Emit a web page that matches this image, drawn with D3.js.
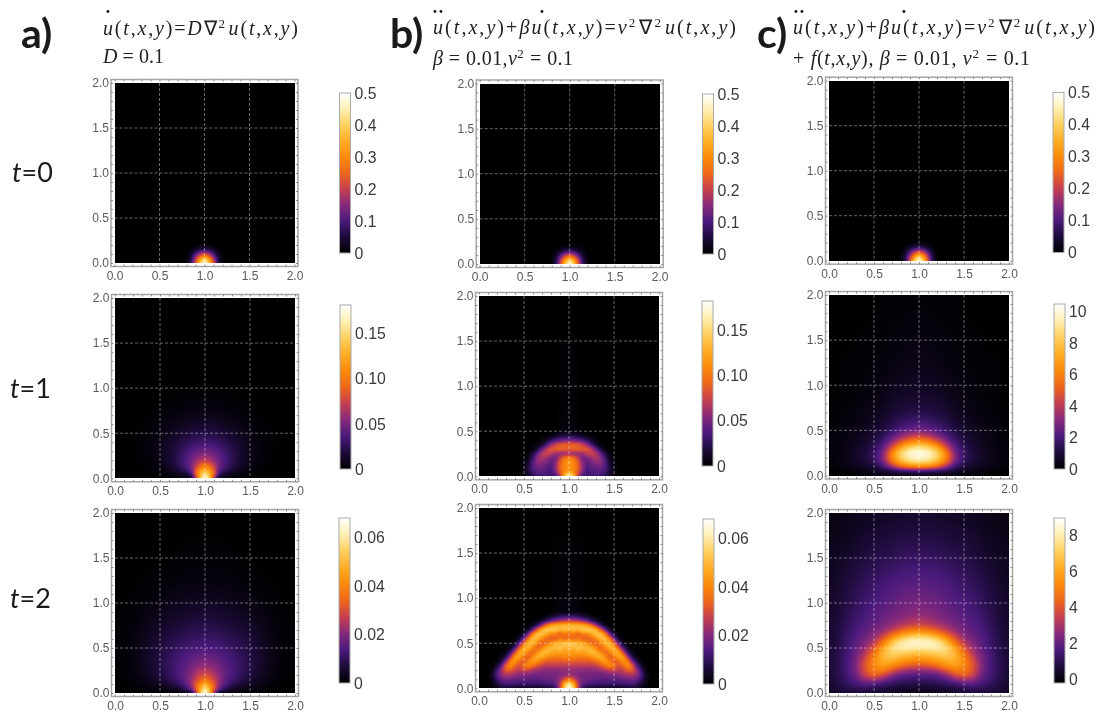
<!DOCTYPE html>
<html><head><meta charset="utf-8">
<style>html,body{margin:0;padding:0;background:#fff;overflow:hidden}
#wrap{position:relative;width:1103px;height:715px}
canvas,svg{position:absolute;left:0;top:0}
svg{filter:blur(0.35px)}
</style>
<script src="https://cdn.jsdelivr.net/npm/d3@7"></script></head>
<body><div id="wrap"><canvas id="cv" width="1103" height="715"></canvas><svg id="sv" width="1103" height="715"></svg></div>
<script>
// ---- Data: values, in percent of each colour bar's top value.
// Rows are heights y, columns are distances |x-1| from the centre line (the fields are mirror symmetric).
const offsetsT0=[0,.05,.1,.15,.2,.25];
const heightsT0=[0,.05,.1,.15,.2,.25,2];
const valuesT0=[
[100,78,45,14,2,0],
[78,62,36,11,1,0],
[45,36,20,6,1,0],
[14,11,6,2,0,0],
[2,1,1,0,0,0],
[0,0,0,0,0,0],
[0,0,0,0,0,0]];

const offsetsA1=[0,.05,.1,.15,.2,.3,.4,.5,.6,.8,1];
const heightsA1=[0,.05,.1,.15,.2,.3,.4,.5,.6,.8,1,2];
const valuesA1=[
[100,78,36,6,2,1,0,0,0,0,0],
[86,72,50,20,10,5,2,1,0,0,0],
[70,62,46,27,18,10,5,2,1,0,0],
[54,50,38,27,21,13,7,3,1,0,0],
[40,37,32,26,21,15,8,4,2,0,0],
[27,26,24,21,19,13,8,4,2,0,0],
[18,18,17,15,14,10,7,4,2,0,0],
[12,12,11,10,9,7,5,3,1,0,0],
[7,7,6,6,5,4,3,2,1,0,0],
[2,2,2,2,2,1,1,0,0,0,0],
[0,0,0,0,0,0,0,0,0,0,0],
[0,0,0,0,0,0,0,0,0,0,0]];

const offsetsA2=[0,.05,.1,.15,.2,.3,.4,.5,.6,.7,.8,1];
const heightsA2=[0,.05,.1,.15,.2,.3,.4,.5,.6,.8,1,1.2,1.5,2];
const valuesA2=[
[100,76,34,8,3,1,1,0,0,0,0,0],
[86,70,48,28,18,8,5,3,2,1,0,0],
[70,60,48,33,24,14,9,6,4,2,1,0],
[56,50,42,33,26,18,13,9,6,3,1,0],
[46,43,37,31,26,20,15,11,7,4,2,0],
[34,32,29,26,24,20,16,12,8,5,2,0],
[26,25,24,22,21,18,15,12,8,5,2,0],
[21,21,20,19,18,16,14,11,8,5,2,0],
[17,17,16,16,15,13,12,9,7,4,2,0],
[11,11,10,10,9,8,7,6,4,3,1,0],
[6,6,6,5,5,5,4,3,2,1,1,0],
[3,3,3,3,2,2,2,1,1,1,0,0],
[1,1,1,1,1,1,0,0,0,0,0,0],
[0,0,0,0,0,0,0,0,0,0,0,0]];

const offsetsB1=[0,.05,.1,.15,.2,.25,.3,.35,.4,.45,.5,.55];
const heightsB1=[0,.05,.1,.15,.2,.25,.3,.35,.4,.45,.5,2];
const valuesB1=[
[100,75,35,18,18,18,18,16,12,6,2,0],
[68,60,46,28,18,20,22,22,18,10,3,0],
[60,58,50,32,20,23,25,26,22,11,3,0],
[66,60,48,30,22,27,30,31,22,9,2,0],
[58,54,40,26,27,32,36,32,18,6,1,0],
[34,32,30,32,38,42,38,25,11,3,0,0],
[46,48,49,48,47,38,25,11,3,0,0,0],
[50,50,47,42,33,19,8,2,0,0,0,0],
[28,27,24,20,14,7,2,0,0,0,0,0],
[12,11,9,6,3,1,0,0,0,0,0,0],
[2,2,1,0,0,0,0,0,0,0,0,0],
[0,0,0,0,0,0,0,0,0,0,0,0]];

const offsetsB2=[0,.05,.1,.15,.2,.25,.3,.35,.4,.45,.5,.55,.6,.65,.7,.75,.8,.85,.9];
const heightsB2=[0,.05,.1,.15,.2,.25,.3,.35,.4,.45,.5,.55,.6,.65,.7,.75,.8,.85,2];
const valuesB2=[
[100,82,40,14,8,7,6,5,5,5,5,5,6,6,7,7,4,1,0],
[88,70,38,24,20,19,18,17,17,17,17,17,18,19,19,16,9,3,0],
[55,44,32,27,26,25,24,23,23,23,23,24,25,26,27,25,17,6,0],
[32,30,29,28,27,27,26,26,27,28,29,30,33,35,36,32,22,8,0],
[32,32,31,30,30,30,31,33,35,40,42,38,40,48,48,34,18,4,0],
[38,38,38,38,38,38,40,45,52,60,55,44,50,62,50,24,8,1,0],
[48,48,47,47,47,48,52,60,66,58,46,50,64,58,30,11,2,0,0],
[58,60,56,58,58,62,70,72,62,46,54,68,66,36,12,3,0,0,0],
[66,64,68,66,70,74,72,60,50,56,70,70,42,16,4,0,0,0,0],
[76,72,78,74,74,70,58,48,58,72,72,48,20,5,0,0,0,0,0],
[76,78,70,72,60,52,46,58,72,74,52,24,6,0,0,0,0,0,0],
[56,48,58,46,48,50,60,72,76,58,28,8,1,0,0,0,0,0,0],
[48,56,46,58,56,68,76,78,60,30,9,2,0,0,0,0,0,0,0],
[72,76,72,78,80,80,72,50,26,8,1,0,0,0,0,0,0,0,0],
[74,74,72,70,64,52,34,16,5,1,0,0,0,0,0,0,0,0,0],
[40,38,36,30,24,14,7,2,0,0,0,0,0,0,0,0,0,0,0],
[16,15,13,10,6,3,1,0,0,0,0,0,0,0,0,0,0,0,0],
[2,2,2,1,0,0,0,0,0,0,0,0,0,0,0,0,0,0,0],
[0,0,0,0,0,0,0,0,0,0,0,0,0,0,0,0,0,0,0]];

const offsetsC1=[0,.1,.2,.25,.3,.35,.4,.5,.6,.8,1];
const heightsC1=[0,.05,.1,.15,.2,.25,.3,.35,.4,.45,.5,.6,.7,.85,1,1.25,1.5,2];
const valuesC1=[
[3,3,3,3,3,3,3,2,1,0,0],
[20,18,16,14,12,10,8,5,3,1,0],
[60,58,50,42,34,25,18,10,7,3,1],
[85,82,72,62,52,40,26,14,9,4,1],
[96,93,82,72,60,46,30,16,10,4,1],
[100,96,85,74,60,45,28,15,10,4,1],
[92,88,74,62,48,34,24,14,9,4,1],
[74,68,54,44,34,25,19,12,8,3,1],
[54,48,36,30,25,20,15,10,7,3,1],
[36,33,27,23,20,16,12,9,6,3,1],
[26,25,21,18,16,13,10,8,5,3,1],
[17,17,14,13,12,10,8,6,4,2,1],
[12,12,10,10,9,7,6,5,3,2,0],
[8,8,7,7,6,5,4,3,2,1,0],
[6,6,5,5,4,4,3,2,2,1,0],
[4,4,3,3,3,2,2,2,1,1,0],
[3,3,2,2,2,2,1,1,1,0,0],
[1,1,1,1,1,1,1,0,0,0,0]];

const offsetsC2=[0,.1,.2,.3,.4,.5,.6,.7,.8,.9,1];
const heightsC2=[0,.05,.1,.15,.2,.25,.3,.35,.4,.45,.5,.55,.6,.65,.7,.75,.8,.9,1,1.25,1.5,1.75,2];
const valuesC2=[
[2,2,3,4,5,6,7,7,7,6,4],
[5,5,6,7,9,11,13,12,10,8,5],
[10,10,11,13,16,20,21,17,13,9,5],
[15,15,16,20,28,34,30,21,15,10,6],
[20,20,22,29,42,50,40,24,16,11,6],
[28,29,33,44,56,56,45,26,17,11,6],
[43,45,50,60,66,60,46,27,17,11,6],
[56,58,62,70,72,60,44,26,17,11,6],
[66,68,72,78,76,58,38,25,17,10,6],
[75,77,80,85,74,52,33,24,16,10,6],
[88,90,92,88,68,44,30,22,16,10,5],
[99,99,96,84,56,36,27,21,15,10,5],
[98,96,86,68,44,31,25,20,15,9,5],
[72,70,60,46,34,27,23,19,14,9,5],
[52,50,43,36,29,25,21,18,13,9,5],
[40,38,34,30,26,23,20,17,13,8,4],
[34,33,30,27,24,21,19,16,12,8,4],
[29,28,26,24,22,20,17,14,11,7,4],
[26,25,24,22,20,18,16,13,10,7,4],
[20,20,19,18,16,14,12,10,8,5,3],
[14,14,13,12,11,10,9,7,5,4,2],
[9,9,9,8,7,7,6,4,3,2,2],
[5,5,5,4,4,3,3,2,2,1,1]];

const axisTicks=[0,.5,1,1.5,2];
const ticksT0=[0,.1,.2,.3,.4,.5];
const labelsT0=["0","0.1","0.2","0.3","0.4","0.5"];
const ticksA1=[0,.05,.1,.15];
const labelsA1=["0","0.05","0.10","0.15"];
const ticksA2=[0,.02,.04,.06];
const labelsA2=["0","0.02","0.04","0.06"];
const ticksC1=[0,2,4,6,8,10];
const ticksC2=[0,2,4,6,8];

const stopPositions=[0,.1,.2,.3,.4,.5,.6,.7,.8,.9,1];
const stopColors=["#000000","#1c0b3a","#4a1a7c","#86297c","#c63f50","#ee661a","#fb8a0a","#ffad25","#ffd060","#fff0b4","#ffffff"];

// ---- Layout
const panels=[
 {x0:114.5,y0:263,y2:83,  bx:339.5,by0:253,by1:93, min:0,max:.5,  off:offsetsT0,hs:heightsT0,vals:valuesT0,t:ticksT0,l:labelsT0,soft:0},
 {x0:115,y0:478.3,y2:298, bx:340,by0:469,by1:305,  min:0,max:.182,off:offsetsA1,hs:heightsA1,vals:valuesA1,t:ticksA1,l:labelsA1,soft:7},
 {x0:115,y0:693,y2:513,   bx:339,by0:683,by1:518,  min:0,max:.068,off:offsetsA2,hs:heightsA2,vals:valuesA2,t:ticksA2,l:labelsA2,soft:8},
 {x0:479.7,y0:264,y2:83.5,bx:702.5,by0:254,by1:94, min:0,max:.5,  off:offsetsT0,hs:heightsT0,vals:valuesT0,t:ticksT0,l:labelsT0,soft:0},
 {x0:479,y0:476.3,y2:296, bx:702,by0:466,by1:301,  min:0,max:.182,off:offsetsB1,hs:heightsB1,vals:valuesB1,t:ticksA1,l:labelsA1,soft:0},
 {x0:479,y0:688.3,y2:508, bx:703,by0:684,by1:519,  min:0,max:.068,off:offsetsB2,hs:heightsB2,vals:valuesB2,t:ticksA2,l:labelsA2,soft:0},
 {x0:829,y0:260.7,y2:80.7,bx:1053,by0:252.5,by1:92.5,min:0,max:.5,off:offsetsT0,hs:heightsT0,vals:valuesT0,t:ticksT0,l:labelsT0,soft:0},
 {x0:829,y0:475.5,y2:295, bx:1054,by0:469,by1:304, min:0,max:10.5,off:offsetsC1,hs:heightsC1,vals:valuesC1,t:ticksC1,l:ticksC1.map(String),soft:4},
 {x0:829,y0:693,y2:513,   bx:1054,by0:683,by1:518, min:-.2,max:8.95,off:offsetsC2,hs:heightsC2,vals:valuesC2,t:ticksC2,l:ticksC2.map(String),soft:4}
];

const color=d3.scaleLinear().domain(stopPositions).range(stopColors).clamp(true);
const lut=d3.range(1024).map(i=>d3.rgb(color(i/1023)));
const ctx=document.getElementById('cv').getContext('2d');
const svg=d3.select('#sv');

function sample(p,dx,y){
  const nx=p.off.length-1, ny=p.hs.length-1;
  const ix=Math.min(nx-1,Math.max(0,d3.bisectRight(p.off,dx)-1));
  const iy=Math.min(ny-1,Math.max(0,d3.bisectRight(p.hs,y)-1));
  const tx=Math.min(1,(dx-p.off[ix])/(p.off[ix+1]-p.off[ix]));
  const ty=Math.min(1,Math.max(0,(y-p.hs[iy])/(p.hs[iy+1]-p.hs[iy])));
  const a=p.vals[iy][ix],b=p.vals[iy][ix+1],c=p.vals[iy+1][ix],d=p.vals[iy+1][ix+1];
  return (a*(1-tx)+b*tx)*(1-ty)+(c*(1-tx)+d*tx)*ty;
}
function blur(f,w,h,r){
  const g=new Float32Array(w*h);
  for(let y=0;y<h;y++)for(let x=0;x<w;x++){let s=0,n=0;
    for(let k=-r;k<=r;k++){const q=x+k;if(q>=0&&q<w){s+=f[y*w+q];n++}} g[y*w+x]=s/n}
  const o=new Float32Array(w*h);
  for(let y=0;y<h;y++)for(let x=0;x<w;x++){let s=0,n=0;
    for(let k=-r;k<=r;k++){const q=y+k;if(q>=0&&q<h){s+=g[q*w+x];n++}} o[y*w+x]=s/n}
  return o;
}

panels.forEach(p=>{
  const x2=p.x0+180;
  const xS=d3.scaleLinear().domain([0,2]).range([p.x0,x2]);
  const yS=d3.scaleLinear().domain([0,2]).range([p.y0,p.y2]);
  const cS=d3.scaleLinear().domain([p.min,p.max]).range([0,1]).clamp(true);
  const L=Math.round(p.x0),T=Math.round(p.y2),W=Math.round(x2)-L,H=Math.round(p.y0)-T;
  let f=new Float32Array(W*H);
  for(let j=0;j<H;j++)for(let i=0;i<W;i++){
    f[j*W+i]=sample(p,Math.abs(xS.invert(L+i+.5)-1),yS.invert(T+j+.5));
  }
  let fine=blur(f,W,H,1);
  if(p.soft){
    const big=blur(blur(blur(f,W,H,p.soft),W,H,p.soft),W,H,p.soft);
    const wt=d3.scaleLinear().domain([.08,.4]).range([0,1]).clamp(true);
    for(let j=0;j<H;j++){const w=wt(yS.invert(T+j+.5));
      for(let i=0;i<W;i++){fine[j*W+i]=fine[j*W+i]*(1-w)+big[j*W+i]*w}}
  }
  f=fine;
  const img=ctx.createImageData(W,H);
  for(let n=0;n<W*H;n++){
    const c=lut[Math.round(cS(f[n]/100*p.max)*1023)];
    img.data[n*4]=c.r;img.data[n*4+1]=c.g;img.data[n*4+2]=c.b;img.data[n*4+3]=255;
  }
  ctx.putImageData(img,L,T);
  // colour bar
  const bS=d3.scaleLinear().domain([p.min,p.max]).range([p.by0,p.by1]);
  for(let y=Math.round(p.by1);y<Math.round(p.by0);y++){
    ctx.fillStyle=color(cS(bS.invert(y+.5)));
    ctx.fillRect(p.bx,y,11,1);
  }
  const g=svg.append('g');
  const grid=[.5,1,1.5];
  g.selectAll('.gv').data(grid).join('line').attr('x1',d=>xS(d)).attr('x2',d=>xS(d)).attr('y1',p.y2).attr('y2',p.y0)
    .attr('stroke','#fff').attr('stroke-opacity',.5).attr('stroke-width',.8).attr('stroke-dasharray','3,2');
  g.selectAll('.gh').data(grid).join('line').attr('y1',d=>yS(d)).attr('y2',d=>yS(d)).attr('x1',p.x0).attr('x2',x2)
    .attr('stroke','#fff').attr('stroke-opacity',.5).attr('stroke-width',.8).attr('stroke-dasharray','3,2');
  const pad=3.5;
  g.append('rect').attr('x',p.x0-pad).attr('y',p.y2-pad).attr('width',180+2*pad).attr('height',p.y0-p.y2+2*pad)
    .attr('fill','none').attr('stroke','#a6a6a6').attr('stroke-width',1.5);
  const minor=d3.range(0,2.001,.1).map(v=>+v.toFixed(1));
  const styleAxis=(sel,fs,col)=>{sel.select('.domain').remove();
    sel.selectAll('line').attr('stroke','#777').attr('stroke-width',.8);
    sel.selectAll('text').attr('font-family','"Liberation Sans",Arial,sans-serif').attr('font-size',fs).attr('fill',col);};
  const fmt=d3.format('.1f');
  const mk=[
   [d3.axisBottom(xS),0,p.y2-pad],[d3.axisTop(xS),0,p.y0+pad],
   [d3.axisRight(yS),p.x0-pad,0],[d3.axisLeft(yS),x2+pad,0]];
  mk.forEach(([ax,tx,ty])=>{
    g.append('g').attr('transform',`translate(${tx},${ty})`)
     .call(ax.tickValues(minor).tickSize(2).tickFormat('')).call(s=>styleAxis(s,10,'#666'));
  });
  g.append('g').attr('transform',`translate(0,${p.y0+pad})`)
    .call(d3.axisBottom(xS).tickValues(axisTicks).tickSize(0).tickPadding(5).tickFormat(fmt)).call(s=>styleAxis(s,12,'#5a5a5a'));
  g.append('g').attr('transform',`translate(${p.x0-pad},0)`)
    .call(d3.axisLeft(yS).tickValues(axisTicks).tickSize(0).tickPadding(2).tickFormat(fmt)).call(s=>styleAxis(s,12,'#5a5a5a'));
  g.append('rect').attr('x',p.bx).attr('y',p.by1).attr('width',11).attr('height',p.by0-p.by1)
    .attr('fill','none').attr('stroke','#aaa').attr('stroke-width',1);
  g.append('g').attr('transform',`translate(${p.bx+11},0)`)
    .call(d3.axisRight(bS).tickValues(p.t).tickSize(0).tickPadding(4).tickFormat((d,i)=>p.l[i])).call(s=>styleAxis(s,15.8,'#3a3a3a'));
});

// ---- Equations
const equations=[
 {x:103,y:35,w:195,s:"u(t,x,y)=D∇^2u(t,x,y)"},
 {x:103,y:63,w:61,s:"D = 0.1"},
 {x:433,y:34,w:303,s:"u(t,x,y)+βu(t,x,y)=ν^2∇^2u(t,x,y)"},
 {x:433,y:65,w:140,s:"β = 0.01,ν^2 = 0.1"},
 {x:793,y:34,w:302,s:"u(t,x,y)+βu(t,x,y)=ν^2∇^2u(t,x,y)"},
 {x:793,y:65,w:237,s:"+ f(t,x,y), β = 0.01, ν^2 = 0.1"}
];
const dotMarks=[{x:108,s:"•"},{x:438,s:"••"},{x:542,s:"•"},{x:799,s:"••"},{x:904,s:"•"}];
equations.forEach(e=>{
  const t=svg.append('text').attr('x',e.x).attr('y',e.y).attr('font-family','"Liberation Serif","Times New Roman",serif')
    .attr('font-size',20).attr('fill','#222').attr('textLength',e.w).attr('lengthAdjust','spacing').attr('xml:space','preserve').style('white-space','pre');
  const chars=[...e.s];
  for(let i=0;i<chars.length;i++){
    const c=chars[i];
    if(c==='^'){
      t.append('tspan').attr('dy',-7).attr('font-size',13).text(chars[++i]);
      t.append('tspan').attr('dy',7).text('\u200b');
      continue;
    }
    const ital=/[a-zA-Zβν]/.test(c);
    t.append('tspan').attr('font-style',ital?'italic':'normal').text(c);
  }
});
svg.selectAll('.dot').data(dotMarks).join('text').attr('x',d=>d.x).attr('y',15)
  .attr('text-anchor','middle').attr('font-size',10).attr('font-family','"DejaVu Sans"').attr('fill','#111').text(d=>d.s);

// ---- Panel letters and row labels
const panelLetters=[["a)",21],["b)",390],["c)",757]];
svg.selectAll('.pl').data(panelLetters).join('text').attr('x',d=>d[1]).attr('y',48)
  .attr('font-family','Lato,"Open Sans",sans-serif').attr('font-weight',700).attr('font-size',41).attr('fill','#1a1a1a').text(d=>d[0]);
const rowLabels=[["0",12,182],["1",10,398],["2",10,608]];
rowLabels.forEach(r=>{
  const t=svg.append('text').attr('x',r[1]).attr('y',r[2]).attr('font-family','Lato,"Open Sans",sans-serif').attr('font-size',27).attr('fill','#1a1a1a');
  t.append('tspan').attr('font-style','italic').text('t');
  t.append('tspan').text('='+r[0]);
});
</script></body></html>
